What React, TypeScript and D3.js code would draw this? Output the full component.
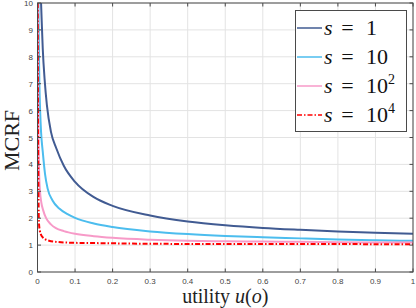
import React from 'react';
import * as d3 from 'd3';

// s = 1
const uS1 = [0.0095, 0.011, 0.014, 0.019, 0.025, 0.036, 0.05, 0.07, 0.1, 0.15, 0.2, 0.3, 0.4, 0.5, 0.6, 0.7, 0.8, 0.9, 1.0];
const mcrfS1 = [10, 9.4, 8.3, 7.15, 6.2, 5.2, 4.6, 3.95, 3.35, 2.78, 2.46, 2.1, 1.88, 1.74, 1.64, 1.57, 1.51, 1.46, 1.42];
// s = 10
const uS10 = [0.0025, 0.0035, 0.005, 0.007, 0.0095, 0.0138, 0.02, 0.027, 0.04, 0.058, 0.08, 0.1, 0.15, 0.2, 0.3, 0.4, 0.5, 0.6, 0.7, 0.8, 0.9, 1.0];
const mcrfS10 = [10, 8.5, 7, 6, 5.2, 4.5, 3.65, 3.1, 2.66, 2.36, 2.15, 2.01, 1.8, 1.67, 1.51, 1.41, 1.34, 1.29, 1.25, 1.21, 1.18, 1.16];
// s = 10^2
const uS100 = [0.0008, 0.0015, 0.003, 0.0045, 0.0067, 0.01, 0.015, 0.023, 0.035, 0.049, 0.07, 0.1, 0.15, 0.2, 0.3, 0.4, 0.5, 0.6, 0.7, 0.8, 0.9, 1.0];
const mcrfS100 = [10, 7, 4.6, 3.6, 3.0, 2.6, 2.3, 2.0, 1.78, 1.63, 1.52, 1.42, 1.33, 1.27, 1.2, 1.16, 1.14, 1.13, 1.12, 1.11, 1.1, 1.1];
// s = 10^4
const uS10k = [0.0005, 0.0012, 0.002, 0.003, 0.004, 0.006, 0.009, 0.014, 0.02, 0.031, 0.05, 0.085, 0.18, 0.3, 0.5, 0.7, 1.0];
const mcrfS10k = [10, 6.5, 4, 2.4, 1.8, 1.55, 1.4, 1.29, 1.22, 1.16, 1.12, 1.09, 1.07, 1.05, 1.04, 1.04, 1.03];

const xTicks = [0, 0.1, 0.2, 0.3, 0.4, 0.5, 0.6, 0.7, 0.8, 0.9, 1];
const yTicks = [0, 1, 2, 3, 4, 5, 6, 7, 8, 9, 10];

const series = [
  { exp: '1', sup: '', u: uS1, v: mcrfS1, color: '#415b92', dash: '' },
  { exp: '10', sup: '', u: uS10, v: mcrfS10, color: '#4cbdee', dash: '' },
  { exp: '10', sup: '2', u: uS100, v: mcrfS100, color: '#f79ac8', dash: '' },
  { exp: '10', sup: '4', u: uS10k, v: mcrfS10k, color: '#ff0000', dash: '5,2,1.5,2' },
];

export default function App() {
  const width = 416;
  const height = 308;
  const margin = { top: 3, right: 3, bottom: 36, left: 37.5 };
  const innerW = width - margin.left - margin.right;
  const innerH = height - margin.top - margin.bottom;

  const x = d3.scaleLinear().domain([0, 1]).range([0, innerW]);
  const y = d3.scaleLinear().domain([0, 10]).range([innerH, 0]);

  const line = d3.line<[number, number]>()
    .x((d) => x(d[0]))
    .y((d) => y(d[1]))
    .curve(d3.curveMonotoneX);

  const axisColor = '#4a4a4a';
  const tickFont = 'Liberation Sans, Arial, sans-serif';
  const serif = 'Liberation Serif, Times New Roman, serif';

  return (
    <svg width={width} height={height} style={{ position: 'absolute', left: 0, top: 0 }}>
      <rect width={width} height={height} fill="#fff" />
      <defs>
        <clipPath id="plotclip">
          <rect x={0} y={0} width={innerW} height={innerH} />
        </clipPath>
      </defs>
      <g transform={`translate(${margin.left},${margin.top})`}>
        {/* grid */}
        {xTicks.map((t) => (
          <line key={'gx' + t} x1={x(t)} x2={x(t)} y1={0} y2={innerH} stroke="#e3e3e3" strokeWidth={1} />
        ))}
        {yTicks.map((t) => (
          <line key={'gy' + t} x1={0} x2={innerW} y1={y(t)} y2={y(t)} stroke="#e3e3e3" strokeWidth={1} />
        ))}

        {/* curves */}
        <g clipPath="url(#plotclip)">
          {series.map((s, i) => (
            <path
              key={i}
              d={line(s.u.map((u, j) => [u, s.v[j]] as [number, number])) || ''}
              fill="none"
              stroke={s.color}
              strokeWidth={2}
              strokeDasharray={s.dash}
            />
          ))}
        </g>

        {/* frame and ticks */}
        <rect x={0} y={0} width={innerW} height={innerH} fill="none" stroke={axisColor} strokeWidth={1} />
        {xTicks.map((t) => (
          <g key={'tx' + t}>
            <line x1={x(t)} x2={x(t)} y1={innerH} y2={innerH - 3.5} stroke={axisColor} />
            <line x1={x(t)} x2={x(t)} y1={0} y2={3.5} stroke={axisColor} />
            <text x={x(t)} y={innerH + 12} textAnchor="middle" fontSize={8} fontFamily={tickFont} fill="#444">
              {t}
            </text>
          </g>
        ))}
        {yTicks.map((t) => (
          <g key={'ty' + t}>
            <line x1={0} x2={3.5} y1={y(t)} y2={y(t)} stroke={axisColor} />
            <line x1={innerW} x2={innerW - 3.5} y1={y(t)} y2={y(t)} stroke={axisColor} />
            <text x={-4.5} y={y(t) + 3} textAnchor="end" fontSize={8} fontFamily={tickFont} fill="#444">
              {t}
            </text>
          </g>
        ))}
      </g>

      {/* axis labels */}
      <text
        transform={`translate(19,${margin.top + innerH / 2 + 3}) rotate(-90)`}
        textAnchor="middle"
        fontSize={22}
        fontFamily={serif}
        fill="#222"
      >
        MCRF
      </text>
      <text x={margin.left + innerW / 2} y={303} textAnchor="middle" fontSize={20} fontFamily={serif} fill="#222">
        utility <tspan fontStyle="italic">u</tspan>(<tspan fontStyle="italic">o</tspan>)
      </text>

      {/* legend */}
      <rect x={295.5} y={10.5} width={111} height={121} fill="#fff" stroke={axisColor} strokeWidth={1} />
      {series.map((s, i) => {
        const cy = 28 + i * 29;
        return (
          <g key={'lg' + i}>
            <line x1={297} x2={322} y1={cy} y2={cy} stroke={s.color} strokeWidth={1.5} strokeDasharray={s.dash} />
            <text x={324} y={cy + 7} fontSize={22} fontFamily={serif} fontStyle="italic" fill="#111">s</text>
            <text x={347.5} y={cy + 7} fontSize={22} fontFamily={serif} textAnchor="middle" fill="#111">=</text>
            <text x={366} y={cy + 7} fontSize={22} fontFamily={serif} fill="#111">
              {s.exp}
              {s.sup && <tspan dy={-9} fontSize={14}>{s.sup}</tspan>}
            </text>
          </g>
        );
      })}
    </svg>
  );
}
